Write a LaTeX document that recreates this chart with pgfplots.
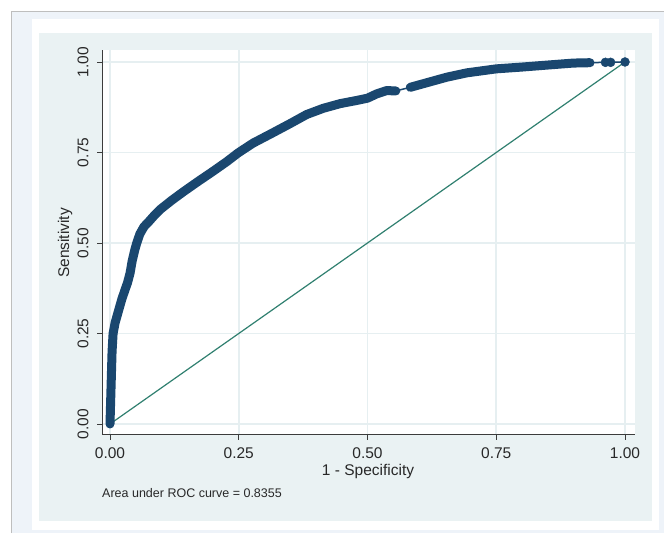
\documentclass[border=0pt]{standalone}
\usepackage{pgfplots}
\pgfplotsset{compat=1.18}
\usepackage{fontspec}
\setmainfont{Liberation Sans}

\definecolor{outerbg}{RGB}{238,243,249}
\definecolor{framegray}{RGB}{190,190,190}
\definecolor{regionbg}{RGB}{234,242,243}
\definecolor{gridc}{RGB}{230,239,241}
\definecolor{navyc}{RGB}{26,71,111}
\definecolor{refc}{RGB}{48,128,112}
\definecolor{axisc}{RGB}{60,60,60}
\definecolor{textc}{RGB}{40,40,40}

\begin{document}
\begin{tikzpicture}
\useasboundingbox (0pt,0pt) rectangle (664pt,533pt);
% backgrounds (stata s2color look)
\fill[white] (0pt,0pt) rectangle (664pt,533pt);
\fill[outerbg] (11pt,0pt) rectangle (664pt,521pt);
\draw[framegray, line width=1pt] (11pt,0pt) -- (11pt,521pt) -- (664pt,521pt);
\fill[white] (32pt,3pt) rectangle (659pt,514pt);
\fill[regionbg] (39pt,12pt) rectangle (652pt,500pt);

\begin{axis}[
  at={(102pt,98pt)}, anchor=south west,
  scale only axis, width=533pt, height=385pt,
  xmin=-0.01553, xmax=1.0194, ymin=-0.0304, ymax=1.0331,
  axis x line*=bottom, axis y line*=left,
  axis line style={axisc, line width=1pt, -},
  x axis line style={-}, y axis line style={-},
  axis background/.style={fill=white},
  xtick={0,0.25,0.5,0.75,1}, ytick={0,0.25,0.5,0.75,1},
  grid=major, major grid style={gridc, line width=1.6pt},
  tick align=outside, major tick length=5pt,
  tick style={axisc, line width=0.8pt},
  /pgf/number format/.cd, fixed, fixed zerofill, precision=2, assume math mode=true, /pgfplots/.cd,
  ticklabel style={font=\fontsize{15.5}{18}\selectfont, text=textc},
  yticklabel style={rotate=90, anchor=south},
  xticklabel shift=4pt, yticklabel shift=5pt,
  clip=false,
]

% reference line
\addplot[refc, line width=1.2pt, no marks] coordinates {(0,0) (1,1)};

% thin connecting line through all points
\addplot[navyc, line width=1.5pt, no marks] coordinates {
(0,0) (0.001,0.05) (0.002,0.10) (0.003,0.15) (0.004,0.20) (0.006,0.25)
(0.010,0.28) (0.014,0.30) (0.018,0.32) (0.023,0.345) (0.029,0.37)
(0.034,0.39) (0.039,0.417) (0.043,0.45) (0.048,0.48) (0.052,0.50)
(0.058,0.525) (0.066,0.545) (0.076,0.560) (0.086,0.576) (0.097,0.592)
(0.120,0.618) (0.142,0.641) (0.169,0.668) (0.200,0.698) (0.227,0.725)
(0.249,0.749) (0.278,0.776) (0.317,0.805) (0.350,0.830) (0.382,0.855)
(0.414,0.872) (0.447,0.885) (0.480,0.894) (0.500,0.900) (0.518,0.912)
(0.537,0.921) (0.555,0.920) (0.583,0.930) (0.621,0.945) (0.654,0.958)
(0.693,0.970) (0.750,0.981) (0.800,0.986) (0.854,0.992) (0.900,0.997)
(0.932,0.998) (0.962,0.999) (0.972,0.999) (1,1)
};

% dense runs of markers
\addplot[navyc, line width=9pt, line cap=round, line join=round, no marks] coordinates {
(0,0) (0.001,0.05) (0.002,0.10) (0.003,0.15) (0.004,0.20) (0.006,0.25)
(0.010,0.28) (0.014,0.30) (0.018,0.32) (0.023,0.345) (0.029,0.37)
(0.034,0.39) (0.039,0.417) (0.043,0.45) (0.048,0.48) (0.052,0.50)
(0.058,0.525) (0.066,0.545) (0.076,0.560) (0.086,0.576) (0.097,0.592)
(0.120,0.618) (0.142,0.641) (0.169,0.668) (0.200,0.698) (0.227,0.725)
(0.249,0.749) (0.278,0.776) (0.317,0.805) (0.350,0.830) (0.382,0.855)
(0.414,0.872) (0.447,0.885) (0.480,0.894) (0.500,0.900) (0.518,0.912)
(0.537,0.921) (0.555,0.920)
};
\addplot[navyc, line width=9pt, line cap=round, line join=round, no marks] coordinates {
(0.583,0.930) (0.621,0.945) (0.654,0.958) (0.693,0.970) (0.750,0.981)
(0.800,0.986) (0.854,0.992) (0.900,0.997) (0.932,0.998)
};

% isolated markers at the top end
\addplot[navyc, only marks, mark=*, mark size=4.5pt] coordinates {
(0.962,0.999) (0.972,0.999) (1,1)
};
\end{axis}

\node[rotate=90, font=\fontsize{15.5}{18}\selectfont, text=textc] at (65pt,290pt) {Sensitivity};
\node[font=\fontsize{15.5}{18}\selectfont, text=textc] at (368pt,62pt) {1 - Specificity};
\node[anchor=west, inner sep=0pt, font=\fontsize{12.5}{15}\selectfont, text=textc] at (102pt,40pt) {Area under ROC curve = 0.8355};
\end{tikzpicture}
\end{document}
